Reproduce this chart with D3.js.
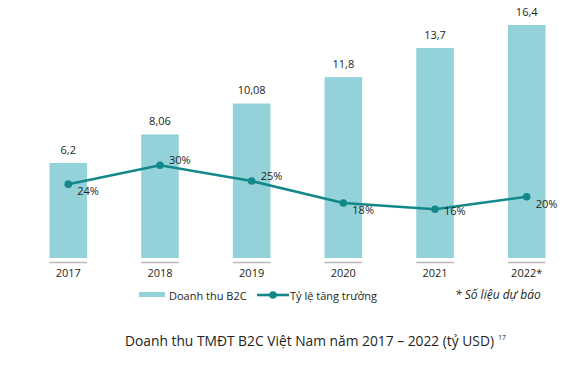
<!DOCTYPE html>
<html><head><meta charset="utf-8">
<script src="https://cdn.jsdelivr.net/npm/d3@7"></script>
<style>body{margin:0;background:#fff}svg{display:block}text{font-family:"Open Sans",sans-serif;fill:#231f20}</style>
</head><body><svg id="c" width="568" height="366"></svg>
<script>
const years = ["2017","2018","2019","2020","2021","2022*"];
const revenue = [6.2, 8.06, 10.08, 11.8, 13.7, 16.4];
const revenueLabels = ["6,2","8,06","10,08","11,8","13,7","16,4"];
const growth = [24, 30, 25, 18, 16, 20];
const growthLabels = ["24%","30%","25%","18%","16%","20%"];
const growthLabelSide = ["below","above","above","below","right","below"];
const legendItems = ["Doanh thu B2C","Tỷ lệ tăng trưởng"];
const footnote = "* Số liệu dự báo";
const caption = "Doanh thu TMĐT B2C Việt Nam năm 2017 – 2022 (tỷ USD)";
const captionRef = "17";

const svg = d3.select("#c");
const barColor = "#94d2da", lineColor = "#13888a";

const x = d3.scaleBand().domain(years).range([49.5, 545.5]).paddingInner(0.59).paddingOuter(0);
const y = d3.scaleLinear().domain([0, 15.2]).range([258, 25]).clamp(true);
const yg = d3.scaleLinear().domain([16, 30]).range([209.3, 165.3]);
const cx = d => x(d) + x.bandwidth()/2;

// bars
svg.append("g").selectAll("rect").data(revenue).join("rect")
  .attr("x", (d,i)=>x(years[i])).attr("width", x.bandwidth())
  .attr("y", d=>y(d)).attr("height", d=>y(0)-y(d)).attr("fill", barColor);

// baseline ticks under bars
svg.append("g").selectAll("line").data(years).join("line")
  .attr("x1", d=>x(d)).attr("x2", d=>x(d)+x.bandwidth())
  .attr("y1", 262.5).attr("y2", 262.5).attr("stroke", "#b9b9b9").attr("stroke-width", 1.6);

// year labels
svg.append("g").selectAll("text").data(years).join("text")
  .attr("x", d=>cx(d)).attr("y", 277).attr("text-anchor","middle")
  .attr("font-size", 11).text(d=>d);

// value labels
svg.append("g").selectAll("text").data(revenue).join("text")
  .attr("x", (d,i)=>cx(years[i])).attr("y", d=>y(d)-9).attr("text-anchor","middle")
  .attr("font-size", 11).text((d,i)=>revenueLabels[i]);

// line
const pts = growth.map((g,i)=>[cx(years[i]), yg(g)]);
svg.append("path").attr("d", d3.line()(pts)).attr("fill","none")
  .attr("stroke", lineColor).attr("stroke-width", 2.6);
svg.append("g").selectAll("circle").data(pts).join("circle")
  .attr("cx", d=>d[0]).attr("cy", d=>d[1]).attr("r", 3.8).attr("fill", lineColor);

// growth labels
svg.append("g").selectAll("text").data(pts).join("text")
  .attr("x", d=>d[0]+9)
  .attr("y", (d,i)=> growthLabelSide[i]==="above" ? d[1]-1 : growthLabelSide[i]==="below" ? d[1]+11 : d[1]+6)
  .attr("font-size", 11).text((d,i)=>growthLabels[i]);

// legend
const lg = svg.append("g");
lg.append("rect").attr("x",139).attr("y",292).attr("width",26).attr("height",5).attr("fill",barColor);
lg.append("text").attr("x",169).attr("y",299.5).attr("font-size",11).text(legendItems[0]);
lg.append("line").attr("x1",257).attr("x2",289).attr("y1",295).attr("y2",295).attr("stroke",lineColor).attr("stroke-width",2.6);
lg.append("circle").attr("cx",273).attr("cy",295).attr("r",3.8).attr("fill",lineColor);
lg.append("text").attr("x",290).attr("y",299.5).attr("font-size",11).text(legendItems[1]);
lg.append("text").attr("x",455).attr("y",299).attr("font-size",12).attr("font-style","italic").text(footnote);

// caption
const ct = svg.append("text").attr("x",125).attr("y",345.5).attr("font-size",13.8).text(caption);
ct.append("tspan").attr("dx",4).attr("dy",-6).attr("font-size",7).text(captionRef);
</script></body></html>
